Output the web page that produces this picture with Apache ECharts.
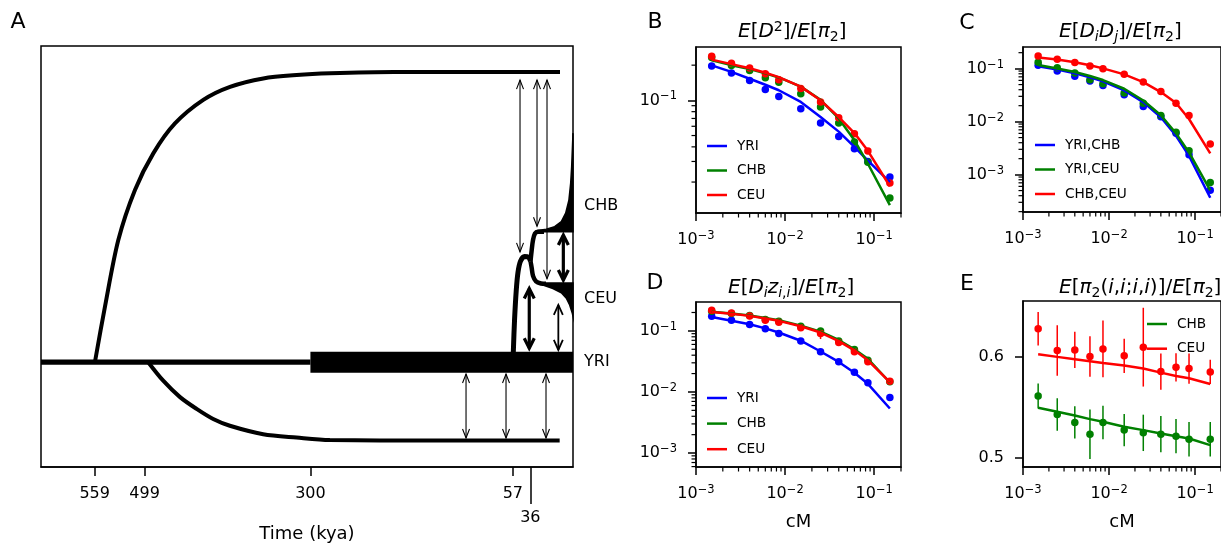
<!DOCTYPE html>
<html>
<head>
<meta charset="utf-8">
<script src="https://cdn.jsdelivr.net/npm/echarts@6/dist/echarts.min.js"></script>
<style>
  html, body { margin: 0; background: #fff; }
  #main { width: 1221px; height: 548px; }
</style>
</head>
<body>
<div id="main"></div>
<script>
const FONT = 'DejaVu Sans'

// ---- panel A: demographic model (time in kya, y in arbitrary diagram units 0..100)
const timeTicks = [559, 499, 300, 57]
const splitTick = [36]
const yriOld = [[623.4, 24.9], [300, 24.9]]
const yriBlock = [[300, -15.2, 22.4, 27.4]] // from, to, low, high
const archaicUp = [[558.6, 25], [546.6, 38.1], [530.6, 53.9], [510.6, 65.8], [488.6, 74.5], [462.6, 81.6],
  [428.6, 87.2], [396.5, 90.3], [356.6, 92.3], [316.5, 93.1], [276.5, 93.5], [200, 93.8], [0.4, 93.8]]
const archaicDown = [[494.7, 24.9], [476.7, 20.5], [456.5, 16.6], [436.6, 13.8], [416.7, 11.4], [396.7, 9.8],
  [356.7, 7.8], [316.7, 7.0], [276.7, 6.4], [156.7, 6.3], [0.8, 6.3]]
const ooaStem = [[56.5, 27.0], [55.0, 34.8], [52.9, 42.0], [50.8, 46.3], [47.8, 48.9], [43.0, 50.0], [38.2, 49.8], [35.8, 48.9]]
const chbBranch = [[35.8, 48.9], [34.4, 51.5], [32.8, 53.9], [30.4, 55.5], [26.8, 55.9], [19.6, 55.9]]
const ceuBranch = [[35.8, 48.9], [34.4, 47.3], [32.8, 45.4], [29.2, 44.1], [23.2, 43.6], [17.2, 43.5]]
const chbEdge = [[28.8, 56.1], [16.8, 56.5], [6.8, 57.1], [-1.2, 58.3], [-6.4, 60.3], [-10.3, 63.4],
  [-12.4, 67.4], [-13.6, 71.3], [-14.4, 75.3], [-15.2, 79.3]]
const chbBase = 55.9
const ceuEdge = [[20.9, 43.2], [8.9, 42.4], [-1.2, 41.4], [-7.2, 40.1], [-11.2, 38.5], [-14.4, 36.5], [-15.2, 35.8]]
const ceuBase = 43.7
// migration arrows: time, y from, y to, kind (0 thin, 1 medium, 2 thick)
const arrows = [
  [48.4, 91.9, 51.1, 0], [28.0, 91.9, 57.2, 0], [16.0, 91.9, 44.7, 0],
  [-3.6, 55.1, 44.4, 2], [37.3, 42.4, 28.2, 2], [2.4, 38.5, 27.8, 1],
  [113.2, 22.1, 6.9, 0], [65.2, 22.1, 6.9, 0], [17.2, 22.1, 6.9, 0]
]
const popLabels = ['CHB', 'CEU', 'YRI']

// ---- panels B-E: binned statistics by recombination distance (cM)
const cmBins = [0.0015, 0.0025, 0.004, 0.006, 0.0085, 0.015, 0.025, 0.04, 0.06, 0.085, 0.15]

// B  E[D^2]/E[pi2]
const bYriObs = [0.197, 0.171, 0.148, 0.124, 0.108, 0.0849, 0.064, 0.049, 0.0386, 0.030, 0.0221]
const bChbObs = [0.232, 0.199, 0.180, 0.156, 0.143, 0.114, 0.0877, 0.064, 0.044, 0.0295, 0.0146]
const bCeuObs = [0.238, 0.208, 0.189, 0.169, 0.150, 0.126, 0.0967, 0.0711, 0.0519, 0.0369, 0.0196]
const bYriFit = [0.199, 0.175, 0.153, 0.136, 0.122, 0.097, 0.072, 0.054, 0.040, 0.0305, 0.020]
const bChbFit = [0.220, 0.200, 0.185, 0.170, 0.157, 0.131, 0.101, 0.070, 0.0455, 0.0287, 0.0127]
const bCeuFit = [0.223, 0.204, 0.188, 0.172, 0.158, 0.131, 0.100, 0.072, 0.0525, 0.037, 0.0184]

// C  E[DiDj]/E[pi2]
const cYriChbObs = [0.116, 0.0903, 0.0715, 0.0583, 0.0483, 0.0321, 0.0193, 0.0124, 0.00601, 0.00236, 0.000506]
const cYriCeuObs = [0.132, 0.104, 0.0827, 0.0618, 0.0519, 0.0345, 0.0223, 0.0130, 0.00628, 0.00282, 0.000709]
const cChbCeuObs = [0.174, 0.150, 0.130, 0.112, 0.100, 0.078, 0.0558, 0.0371, 0.0223, 0.0130, 0.00377]
const cYriChbFit = [0.111, 0.0957, 0.0816, 0.0685, 0.0575, 0.0388, 0.0233, 0.0121, 0.00541, 0.00226, 0.000366]
const cYriCeuFit = [0.117, 0.101, 0.0864, 0.0726, 0.0609, 0.0417, 0.0250, 0.0132, 0.00601, 0.00262, 0.000506]
const cChbCeuFit = [0.162, 0.148, 0.132, 0.116, 0.101, 0.078, 0.0558, 0.0361, 0.0224, 0.0112, 0.00251]

// D  E[Di z_ii]/E[pi2]
const dYriObs = [0.174, 0.149, 0.127, 0.108, 0.0905, 0.0686, 0.0454, 0.0311, 0.0211, 0.0142, 0.00815]
const dChbObs = [0.210, 0.192, 0.178, 0.153, 0.144, 0.119, 0.100, 0.0686, 0.0495, 0.0331, 0.0147]
const dCeuObs = [0.218, 0.197, 0.176, 0.149, 0.139, 0.112, 0.0905, 0.0645, 0.0454, 0.0311, 0.0150]
const dYriErr = [0.006, 0.005, 0.006, 0.010, 0.004, 0.003, 0.003, 0.002, 0.0015, 0.0015, 0.0005]
const dChbErr = [0.006, 0.005, 0.006, 0.008, 0.005, 0.006, 0.010, 0.004, 0.003, 0.002, 0.001]
const dCeuErr = [0.007, 0.006, 0.006, 0.010, 0.006, 0.007, 0.017, 0.005, 0.004, 0.003, 0.001]
const dYriFit = [0.169, 0.147, 0.128, 0.110, 0.094, 0.069, 0.046, 0.031, 0.0207, 0.0136, 0.00537]
const dChbFit = [0.206, 0.193, 0.179, 0.163, 0.149, 0.122, 0.097, 0.071, 0.050, 0.035, 0.0143]
const dCeuFit = [0.204, 0.190, 0.176, 0.160, 0.146, 0.119, 0.094, 0.068, 0.048, 0.033, 0.0145]

// E  E[pi2(i,i;i,i)]/E[pi2]
const eChbObs = [0.5609, 0.5427, 0.5348, 0.5232, 0.5348, 0.5272, 0.5245, 0.5232, 0.5212, 0.5182, 0.5182]
const eChbErr = [0.0124, 0.016, 0.016, 0.0245, 0.0166, 0.016, 0.018, 0.018, 0.017, 0.017, 0.017]
const eCeuObs = [0.6275, 0.606, 0.6066, 0.600, 0.6076, 0.6007, 0.6093, 0.5851, 0.5894, 0.5881, 0.5848]
const eCeuErr = [0.0165, 0.025, 0.018, 0.020, 0.028, 0.017, 0.039, 0.018, 0.014, 0.015, 0.012]
const eChbFit = [0.5493, 0.5454, 0.5417, 0.5381, 0.5354, 0.5305, 0.5272, 0.5238, 0.5212, 0.5189, 0.5123]
const eCeuFit = [0.6023, 0.5997, 0.5974, 0.5954, 0.5937, 0.5911, 0.5881, 0.5841, 0.5808, 0.5785, 0.5728]
const eTicks = [0.5, 0.6]

const logMajors = [0.001, 0.01, 0.1]
const BLUE = '#0000ff'
const GREEN = '#008000'
const RED = '#ff0000'
const black = { color: '#000', width: 1.5 }

const xRange = [0.001, 0.2]
const bRange = [0.01087, 0.286]
const cRange = [0.000197, 0.256]
const dRange = [0.000591, 0.297]
const eRange = [0.4907, 0.655]

// 10^n labels
const powRich = {
  b: { fontFamily: FONT, fontSize: 16, color: '#000', lineHeight: 20, verticalAlign: 'middle' },
  s: { fontFamily: FONT, fontSize: 11.5, color: '#000', lineHeight: 11, verticalAlign: 'top' }
}
function powLabel(v) {
  const e = Math.round(Math.log10(v))
  return '{b|10}{s|' + (e < 0 ? '\u2212' + (-e) : e) + '}'
}

// 2..9 x 10^n inside a range
function minorsBetween(range) {
  const out = []
  for (let e = -5; e <= 1; e++) {
    for (let m = 2; m <= 9; m++) {
      const v = +(m * Math.pow(10, e)).toPrecision(3)
      if (v >= range[0] && v <= range[1]) out.push(v)
    }
  }
  return out
}

function logAxis(gridIndex, dim, range, extra) {
  return Object.assign({
    type: 'log', logBase: 10, gridIndex, min: range[0], max: range[1],
    position: dim === 'x' ? 'bottom' : 'left',
    axisLine: { show: true, onZero: false, lineStyle: { color: '#000', width: 1.5 } },
    axisTick: { show: true, length: 8, customValues: logMajors, lineStyle: { color: '#000', width: 1.5 } },
    axisLabel: { customValues: logMajors, formatter: powLabel, rich: powRich, margin: dim === 'x' ? 17 : 19 },
    splitLine: { show: false }
  }, extra || {})
}

const cmName = {
  name: 'cM', nameLocation: 'middle', nameGap: 46,
  nameTextStyle: { fontFamily: FONT, fontSize: 18, color: '#000' }
}

const pairs = ys => cmBins.map((x, i) => [x, ys[i]])
const errRows = (ys, es) => cmBins.map((x, i) => [x, ys[i] - es[i], ys[i] + es[i]])

function fitLine(name, color, ys, xi, yi) {
  return {
    name, type: 'line', xAxisIndex: xi, yAxisIndex: yi, data: pairs(ys),
    symbol: 'none', lineStyle: { color, width: 2.5 }, itemStyle: { color }, z: 4
  }
}
function dots(name, color, ys, xi, yi) {
  return {
    name, type: 'scatter', xAxisIndex: xi, yAxisIndex: yi, data: pairs(ys),
    symbolSize: 7.5, itemStyle: { color, opacity: 1 }, z: 3
  }
}
function errBars(color, ys, es, xi, yi) {
  return {
    type: 'custom', xAxisIndex: xi, yAxisIndex: yi, data: errRows(ys, es),
    encode: { x: 0, y: [1, 2] }, z: 3, clip: true,
    renderItem(params, api) {
      const lo = api.coord([api.value(0), api.value(1)])
      const hi = api.coord([api.value(0), api.value(2)])
      return { type: 'line', shape: { x1: lo[0], y1: lo[1], x2: hi[0], y2: hi[1] }, style: { stroke: color, lineWidth: 1.5 } }
    }
  }
}

// diagram pieces
function diagramLine(data, width, smooth) {
  return {
    type: 'line', xAxisIndex: 0, yAxisIndex: 0, data, symbol: 'none', smooth: smooth || false,
    lineStyle: { color: '#000', width, cap: 'butt' }, z: 2, silent: true
  }
}
function wedge(edge, base) {
  return {
    type: 'custom', xAxisIndex: 0, yAxisIndex: 0, data: [edge[0]], z: 2, silent: true,
    renderItem(params, api) {
      const pts = edge.map(p => api.coord(p))
      pts.push(api.coord([edge[edge.length - 1][0], base]))
      pts.push(api.coord([edge[0][0], base]))
      return { type: 'polygon', shape: { points: pts }, style: { fill: '#000', stroke: '#000', lineWidth: 1.5 } }
    }
  }
}
const arrowKinds = [
  { w: 1.1, hw: 3.5, hl: 9 },
  { w: 1.8, hw: 4.5, hl: 10 },
  { w: 3.2, hw: 5, hl: 10 }
]

// math titles
const tRich = {
  i: { fontFamily: FONT, fontStyle: 'italic', fontWeight: 'normal', fontSize: 20, lineHeight: 24, verticalAlign: 'middle', color: '#000' },
  n: { fontFamily: FONT, fontWeight: 'normal', fontSize: 20, lineHeight: 24, verticalAlign: 'middle', color: '#000' },
  sup: { fontFamily: FONT, fontWeight: 'normal', fontSize: 14, lineHeight: 14, verticalAlign: 'top', color: '#000' },
  sub: { fontFamily: FONT, fontWeight: 'normal', fontSize: 14, lineHeight: 14, verticalAlign: 'bottom', color: '#000' },
  isub: { fontFamily: FONT, fontStyle: 'italic', fontWeight: 'normal', fontSize: 14, lineHeight: 14, verticalAlign: 'bottom', color: '#000' }
}
const piTail = '{n|]/}{i|E}{n|[}{i|\u03c0}{sub|2}{n|]}'
const titles = [
  { left: 738, top: 20, text: '{i|E}{n|[}{i|D}{sup|2}' + piTail },
  { left: 1059, top: 20, text: '{i|E}{n|[}{i|D}{isub|i}{i|D}{isub|j}' + piTail },
  { left: 728, top: 276, text: '{i|E}{n|[}{i|D}{isub|i}{i|z}{isub|i}{sub|,}{isub|i}' + piTail },
  { left: 1059, top: 276, text: '{i|E}{n|[}{i|\u03c0}{sub|2}{n|(}{i|i}{n|,}{i|i}{n|;}{i|i}{n|,}{i|i}{n|)}' + piTail }
].map(t => Object.assign({ padding: 0, textStyle: { rich: tRich } }, t))

const legendBase = {
  orient: 'vertical', icon: 'rect', itemWidth: 20, itemHeight: 2.5, selectedMode: false, padding: 0,
  textStyle: { fontFamily: FONT, fontSize: 13.7, color: '#000', lineHeight: 12, padding: [0, 0, 0, 5] }
}

const gridFrame = { show: true, borderColor: '#000', borderWidth: 1.5 }

const labelGraphics = [
  ['A', 18, 22], ['B', 655, 22], ['C', 967, 23], ['D', 655, 283], ['E', 967, 284]
].map(([t, x, y]) => ({
  type: 'text', x, y, silent: true,
  style: { text: t, fill: '#000', font: '22px "DejaVu Sans"', align: 'center', verticalAlign: 'middle' }
})).concat(popLabels.map((t, i) => ({
  type: 'text', x: 584, y: [206, 299, 362][i], silent: true,
  style: { text: t, fill: '#000', font: '16px "DejaVu Sans"', align: 'left', verticalAlign: 'middle' }
})))

const option = {
  animation: false,
  title: titles,
  grid: [
    Object.assign({ left: 41, top: 46, width: 532, height: 421 }, gridFrame),
    Object.assign({ left: 696, top: 47, width: 205, height: 166 }, gridFrame),
    Object.assign({ left: 1023, top: 47, width: 205, height: 165 }, gridFrame),
    Object.assign({ left: 696, top: 302, width: 205, height: 165 }, gridFrame),
    Object.assign({ left: 1023, top: 301, width: 205, height: 166 }, gridFrame)
  ],
  xAxis: [
    {
      type: 'value', gridIndex: 0, min: -15.2, max: 623.4, inverse: true, position: 'bottom',
      axisLine: { show: true, onZero: false, lineStyle: black },
      axisTick: { customValues: timeTicks, length: 9, lineStyle: black },
      axisLabel: { customValues: timeTicks, margin: 19, fontSize: 16, color: '#000', fontFamily: FONT },
      splitLine: { show: false },
      name: 'Time (kya)', nameLocation: 'middle', nameGap: 58,
      nameTextStyle: { fontFamily: FONT, fontSize: 18, color: '#000' }
    },
    {
      type: 'value', gridIndex: 0, min: -15.2, max: 623.4, inverse: true, position: 'bottom',
      axisLine: { show: false },
      axisTick: { customValues: splitTick, length: 37, lineStyle: black },
      axisLabel: { customValues: splitTick, margin: 43, fontSize: 16, color: '#000', fontFamily: FONT },
      splitLine: { show: false }
    },
    logAxis(1, 'x', xRange),
    logAxis(2, 'x', xRange),
    logAxis(3, 'x', xRange, cmName),
    logAxis(4, 'x', xRange, cmName)
  ],
  yAxis: [
    { type: 'value', gridIndex: 0, min: 0, max: 100, show: false },
    logAxis(1, 'y', bRange),
    logAxis(2, 'y', cRange),
    logAxis(3, 'y', dRange),
    {
      type: 'value', gridIndex: 4, min: eRange[0], max: eRange[1], position: 'left',
      axisLine: { show: true, onZero: false, lineStyle: black },
      axisTick: { customValues: eTicks, length: 8, lineStyle: black },
      axisLabel: { customValues: eTicks, margin: 19, fontSize: 16, color: '#000', fontFamily: FONT, formatter: v => v.toFixed(1) },
      splitLine: { show: false }
    }
  ],
  legend: [
    Object.assign({ left: 707, top: 139, itemGap: 10.5, data: ['YRI', 'CHB', 'CEU'] }, legendBase),
    Object.assign({ left: 1035, top: 138, itemGap: 10.5, data: ['YRI,CHB', 'YRI,CEU', 'CHB,CEU'] }, legendBase),
    Object.assign({ left: 707, top: 391, itemGap: 11.6, data: ['YRI', 'CHB', 'CEU'] }, legendBase),
    Object.assign({ left: 1147, top: 317, itemGap: 10.7, data: ['CHB', 'CEU'] }, legendBase)
  ],
  graphic: labelGraphics,
  series: [
    // panel A
    diagramLine(yriOld, 5.3),
    {
      type: 'custom', xAxisIndex: 0, yAxisIndex: 0, data: yriBlock, z: 2, silent: true,
      renderItem(params, api) {
        const a = api.coord([api.value(0), api.value(3)])
        const b = api.coord([api.value(1), api.value(2)])
        return { type: 'rect', shape: { x: a[0], y: a[1], width: b[0] - a[0], height: b[1] - a[1] }, style: { fill: '#000' } }
      }
    },
    diagramLine(archaicUp, 4, 0.3),
    diagramLine(archaicDown, 4, 0.3),
    diagramLine(ooaStem, 5, 0.3),
    diagramLine(chbBranch, 4.5, 0.3),
    diagramLine(ceuBranch, 4.5, 0.3),
    wedge(chbEdge, chbBase),
    wedge(ceuEdge, ceuBase),
    {
      type: 'custom', xAxisIndex: 0, yAxisIndex: 0, data: arrows, z: 3, silent: true,
      renderItem(params, api) {
        const p1 = api.coord([api.value(0), api.value(1)])
        const p2 = api.coord([api.value(0), api.value(2)])
        const k = arrowKinds[api.value(3)]
        const dir = p2[1] > p1[1] ? 1 : -1
        const head = (tip, d) => ({
          type: 'polyline',
          shape: { points: [[tip[0] - k.hw, tip[1] + d * k.hl], [tip[0], tip[1]], [tip[0] + k.hw, tip[1] + d * k.hl]] },
          style: { stroke: '#000', fill: null, lineWidth: k.w }
        })
        return {
          type: 'group', children: [
            { type: 'line', shape: { x1: p1[0], y1: p1[1], x2: p2[0], y2: p2[1] }, style: { stroke: '#000', lineWidth: k.w } },
            head(p1, dir), head(p2, -dir)
          ]
        }
      }
    },
    // panel B
    dots('YRI obs', BLUE, bYriObs, 2, 1),
    dots('CHB obs', GREEN, bChbObs, 2, 1),
    dots('CEU obs', RED, bCeuObs, 2, 1),
    fitLine('YRI', BLUE, bYriFit, 2, 1),
    fitLine('CHB', GREEN, bChbFit, 2, 1),
    fitLine('CEU', RED, bCeuFit, 2, 1),
    // panel C
    dots('YRI,CHB obs', BLUE, cYriChbObs, 3, 2),
    dots('YRI,CEU obs', GREEN, cYriCeuObs, 3, 2),
    dots('CHB,CEU obs', RED, cChbCeuObs, 3, 2),
    fitLine('YRI,CHB', BLUE, cYriChbFit, 3, 2),
    fitLine('YRI,CEU', GREEN, cYriCeuFit, 3, 2),
    fitLine('CHB,CEU', RED, cChbCeuFit, 3, 2),
    // panel D
    errBars(BLUE, dYriObs, dYriErr, 4, 3),
    errBars(GREEN, dChbObs, dChbErr, 4, 3),
    errBars(RED, dCeuObs, dCeuErr, 4, 3),
    dots('YRI obs', BLUE, dYriObs, 4, 3),
    dots('CHB obs', GREEN, dChbObs, 4, 3),
    dots('CEU obs', RED, dCeuObs, 4, 3),
    fitLine('YRI', BLUE, dYriFit, 4, 3),
    fitLine('CHB', GREEN, dChbFit, 4, 3),
    fitLine('CEU', RED, dCeuFit, 4, 3),
    // panel E
    errBars(GREEN, eChbObs, eChbErr, 5, 4),
    errBars(RED, eCeuObs, eCeuErr, 5, 4),
    dots('CHB obs', GREEN, eChbObs, 5, 4),
    dots('CEU obs', RED, eCeuObs, 5, 4),
    fitLine('CHB', GREEN, eChbFit, 5, 4),
    fitLine('CEU', RED, eCeuFit, 5, 4)
  ]
}

const chart = echarts.init(document.getElementById('main'))
chart.setOption(option)

// minor log ticks: positioned with the chart's own axis scales after layout
const minorSpecs = [
  [2, 1, 'x', xRange, bRange[0]],
  [2, 1, 'y', bRange, xRange[0]],
  [3, 2, 'x', xRange, cRange[0]],
  [3, 2, 'y', cRange, xRange[0]],
  [4, 3, 'x', xRange, dRange[0]],
  [4, 3, 'y', dRange, xRange[0]],
  [5, 4, 'x', xRange, eRange[0]]
]
const tickGraphics = []
minorSpecs.forEach(([xi, yi, dim, range, otherMin]) => {
  minorsBetween(range).forEach(v => {
    const p = chart.convertToPixel({ xAxisIndex: xi, yAxisIndex: yi }, dim === 'x' ? [v, otherMin] : [otherMin, v])
    if (!p || isNaN(p[0]) || isNaN(p[1])) return
    tickGraphics.push({
      type: 'line', silent: true, z: 10,
      shape: dim === 'x'
        ? { x1: p[0], y1: p[1], x2: p[0], y2: p[1] + 4.5 }
        : { x1: p[0] - 4.5, y1: p[1], x2: p[0], y2: p[1] },
      style: { stroke: '#000', lineWidth: 1.2 }
    })
  })
})
chart.setOption({ graphic: labelGraphics.concat(tickGraphics) })
</script>
</body>
</html>
